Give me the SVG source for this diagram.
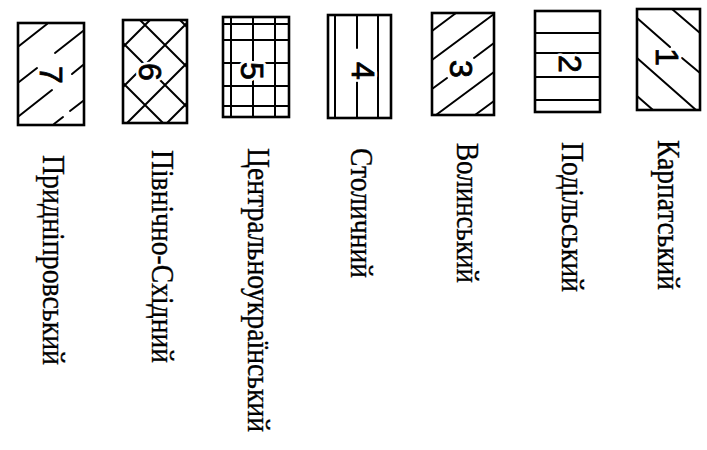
<svg xmlns="http://www.w3.org/2000/svg" width="707" height="450" viewBox="0 0 707 450">
<style>
.bg{fill:#ffffff}
.box{fill:none;stroke:#000;stroke-width:2.6}
.h{fill:none;stroke:#000;stroke-width:2;stroke-linecap:round}
.dh{font-family:"Liberation Sans",Arial,sans-serif;font-size:32px;text-anchor:middle;stroke:#fff;stroke-width:6;fill:#fff;stroke-linejoin:round}
.d{font-family:"Liberation Sans",Arial,sans-serif;font-size:32px;text-anchor:middle;fill:#000;stroke:#000;stroke-width:0.8}
.lbl{font-family:"Liberation Serif","DejaVu Serif","Times New Roman",serif;font-size:31px;fill:#000;stroke:#000;stroke-width:0.35}
</style>
<rect class="bg" x="0" y="0" width="707" height="450"/>
<g id="connectors"/>

<g id="item7">
  <path class="h" d="M19,46 L47,24 M19,82 L37,68 M55,53 L83,31 M19,116 L52,90 M72,74 L83,65 M54,124 L63,117 M70,111 L83,101"/>
  <g transform="translate(39.5,75) rotate(90)"><text class="dh">7</text><text class="d">7</text></g>
  <rect class="box" x="18" y="23" width="66" height="102"/>
  <text class="lbl" transform="translate(43,155) rotate(90)" textLength="210" lengthAdjust="spacingAndGlyphs">Придніпровський</text>
</g>

<g id="item6">
  <path class="h" d="M140,20 L187,67 M123,43 L187,107 M123,83 L163,123 M180,20 L187,27 M123,47 L150,20 M123,87 L187,23 M127,123 L187,63 M167,123 L187,103"/>
  <g transform="translate(138.5,72) rotate(90)"><text class="dh">6</text><text class="d">6</text></g>
  <rect class="box" x="123" y="20" width="64" height="103"/>
  <text class="lbl" transform="translate(152,150) rotate(90)" textLength="213" lengthAdjust="spacingAndGlyphs">Північно-Східний</text>
</g>

<g id="item5">
  <path class="h" d="M231,17 L231,117 M253,17 L253,117 M275,17 L275,117 M223,24 L289,24 M223,40 L289,40 M223,63 L289,63 M223,86 L289,86 M223,106 L289,106"/>
  <g transform="translate(240.5,71) rotate(90)"><text class="dh">5</text><text class="d">5</text></g>
  <rect class="box" x="223" y="17" width="66" height="100"/>
  <text class="lbl" transform="translate(248,148) rotate(90)" textLength="284" lengthAdjust="spacingAndGlyphs">Центральноукраїнський</text>
</g>

<g id="item4">
  <path class="h" d="M335,15 L335,118 M378,15 L378,118 M357,15 L357,48 M357,81 L357,118"/>
  <g transform="translate(351.5,71) rotate(90)"><text class="dh">4</text><text class="d">4</text></g>
  <rect class="box" x="328" y="15" width="63" height="103"/>
  <text class="lbl" transform="translate(351,148) rotate(90)" textLength="130" lengthAdjust="spacingAndGlyphs">Столичний</text>
</g>

<g id="item3">
  <path class="h" d="M432,31 L456,13 M432,60 L494,14 M432,89 L447,78 M474,58 L494,43 M436,115 L494,72 M475,115 L494,101"/>
  <g transform="translate(449.5,69) rotate(90)"><text class="dh">3</text><text class="d">3</text></g>
  <rect class="box" x="432" y="13" width="62" height="102"/>
  <text class="lbl" transform="translate(457,143) rotate(90)" textLength="140" lengthAdjust="spacingAndGlyphs">Волинський</text>
</g>

<g id="item2">
  <path class="h" d="M535,33 L600,33 M535,53 L600,53 M535,77 L600,77 M535,100 L600,100"/>
  <g transform="translate(558.5,64) rotate(90)"><text class="dh">2</text><text class="d">2</text></g>
  <rect class="box" x="535" y="11" width="65" height="101"/>
  <text class="lbl" transform="translate(562,142) rotate(90)" textLength="150" lengthAdjust="spacingAndGlyphs">Подільський</text>
</g>

<g id="item1">
  <path class="h" d="M672,9 L700,33 M637,18 L670,47 M682,58 L700,73 M637,58 L696,110 M637,96 L653,110"/>
  <g transform="translate(655.5,57) rotate(90)"><text class="dh">1</text><text class="d">1</text></g>
  <rect class="box" x="637" y="9" width="63" height="101"/>
  <text class="lbl" transform="translate(658,140) rotate(90)" textLength="150" lengthAdjust="spacingAndGlyphs">Карпатський</text>
</g>
</svg>
